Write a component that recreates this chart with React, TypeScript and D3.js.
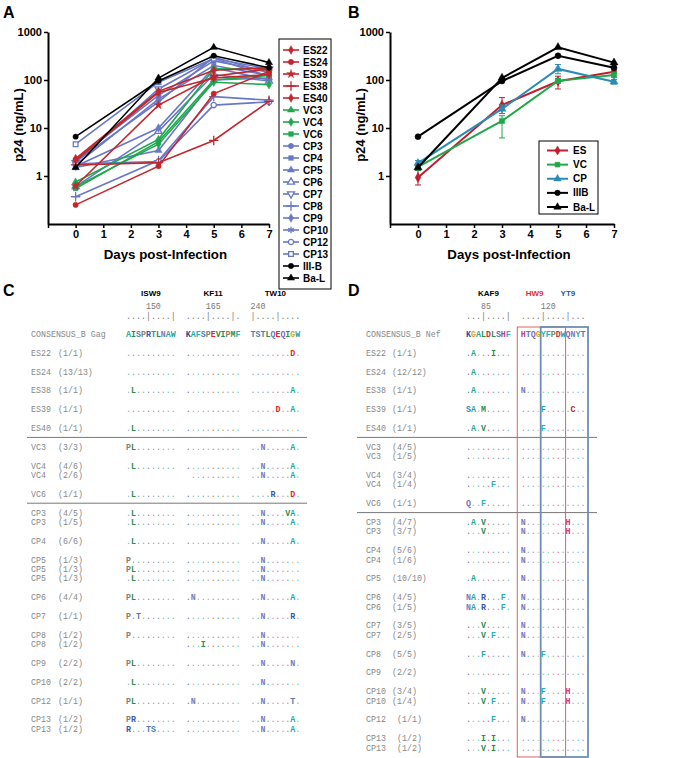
import React, { useEffect, useRef } from 'react';
import * as d3 from 'd3';

const days = [0, 3, 5, 7];

// ---- Panel A: p24 (ng/mL) per isolate, days 0/3/5/7
const es22 = [2.3, 58, 160, 180];
const es24 = [0.25, 1.6, 52, 150];
const es39 = [0.62, 30, 120, 170];
const es38 = [1.7, 1.9, 5.5, 36];
const es40 = [2.1, 55, 110, 130];
const vc3 = [0.75, 5.8, 170, 175];
const vc4 = [0.6, 4.6, 90, 80];
const vc6 = [0.55, 5.2, 100, 125];
const cp3 = [2.2, 48, 250, 150];
const cp4 = [1.7, 40, 200, 125];
const cp5 = [1.5, 3.4, 100, 110];
const cp6 = [0.6, 8.5, 130, 95];
const cp7 = [1.9, 65, 280, 170];
const cp8 = [0.37, 2.1, 45, 38];
const cp9 = [1.6, 10, 180, 100];
const cp10 = [2.0, 35, 300, 140];
const cp12 = [1.8, 2.0, 30, 35];
const cp13 = [4.6, 90, 280, 120];
const iiib = [6.6, 95, 320, 180];
const bal = [1.5, 110, 480, 230];

const isolatesA = ['ES22', 'ES24', 'ES39', 'ES38', 'ES40', 'VC3', 'VC4', 'VC6', 'CP3', 'CP4', 'CP5', 'CP6',
  'CP7', 'CP8', 'CP9', 'CP10', 'CP12', 'CP13', 'III-B', 'Ba-L'];
const valuesA = [es22, es24, es39, es38, es40, vc3, vc4, vc6, cp3, cp4, cp5, cp6, cp7, cp8, cp9, cp10, cp12, cp13, iiib, bal];

// ---- Panel B: group means with error range
const groupsB = ['ES', 'VC', 'CP', 'IIIB', 'Ba-L'];
const meanES = [0.93, 30, 94, 148];
const lowES = [0.65, 20, 65, 138];
const highES = [1.35, 43, 120, 160];
const meanVC = [1.55, 14, 96, 127];
const lowVC = [1.3, 6.2, 86, 115];
const highVC = [1.8, 18, 108, 140];
const meanCP = [1.85, 25, 170, 92];
const lowCP = [1.55, 20, 135, 82];
const highCP = [2.1, 30, 210, 102];
const meanIIIB = [6.6, 95, 320, 180];
const meanBaL = [1.5, 110, 480, 230];

// ---- Panel C: Gag alignment
const gagEpitopes = ['ISW9', 'KF11', 'TW10'];
const gagRuler = ['....|....|', '....|....|.', '|....|....'];
const gagRulerNums = ['150', '165', '240'];
const gagConsensus = ['AISPRTLNAW', 'KAFSPEVIPMF', 'TSTLQEQIGW'];
const gagRows = [
  ['ES22', '(1/1)', '..........', '...........', '........D.'],
  ['ES24', '(13/13)', '..........', '...........', '..........'],
  ['ES38', '(1/1)', '.L........', '...........', '........A.'],
  ['ES39', '(1/1)', '..........', '...........', '.....D..A.'],
  ['ES40', '(1/1)', '.L........', '...........', '..........'],
  ['VC3', '(3/3)', 'PL........', '...........', '..N.....A.'],
  ['VC4', '(4/6)', '.L........', '...........', '..N.....A.'],
  ['VC4', '(2/6)', '          ', ' ..........', '..N.....A.'],
  ['VC6', '(1/1)', '.L........', '...........', '....R...D.'],
  ['CP3', '(4/5)', '.L........', '...........', '..N....VA.'],
  ['CP3', '(1/5)', '.L........', '...........', '..N.....A.'],
  ['CP4', '(6/6)', '.L........', '...........', '..N.....A.'],
  ['CP5', '(1/3)', 'P.........', '...........', '..N.......'],
  ['CP5', '(1/3)', 'PL........', '...........', '..N.......'],
  ['CP5', '(1/3)', '.L........', '...........', '..N.......'],
  ['CP6', '(4/4)', 'PL........', '.N.........', '..N.....A.'],
  ['CP7', '(1/1)', 'P.T.......', '...........', '..N.....R.'],
  ['CP8', '(1/2)', 'P.........', '...........', '..N.......'],
  ['CP8', '(1/2)', '          ', '...I.......', '..N.......'],
  ['CP9', '(2/2)', 'PL........', '...........', '..N.....N.'],
  ['CP10', '(2/2)', '.L........', '...........', '..N.......'],
  ['CP12', '(1/1)', 'PL........', '.N.........', '..N.....T.'],
  ['CP13', '(1/2)', 'PR........', '...........', '..N.....A.'],
  ['CP13', '(1/2)', 'R...TS....', '...........', '..N.....A.'],
];

// ---- Panel D: Nef alignment
const nefEpitopes = ['KAF9'];
const nefBoxEpitopes = ['HW9', 'YT9'];
const nefBoxCols = [[0, 9], [4, 13]];
const nefRuler = ['...|....|', '....|....|...'];
const nefRulerNums = ['85', '120'];
const nefConsensus = ['KGALDLSHF', 'HTQGYFPDWQNYT'];
const nefRows = [
  ['ES22', '(1/1)', '.A...I...', '.............'],
  ['ES24', '(12/12)', '.A.......', '.............'],
  ['ES38', '(1/1)', '.A.......', 'N............'],
  ['ES39', '(1/1)', 'SA.M.....', '....F.....C..'],
  ['ES40', '(1/1)', '.A.V.....', '....F........'],
  ['VC3', '(4/5)', '.........', '.............'],
  ['VC3', '(1/5)', '.........', '.............'],
  ['VC4', '(3/4)', '.........', '.............'],
  ['VC4', '(1/4)', '.....F...', '.............'],
  ['VC6', '(1/1)', 'Q..F.....', '.............'],
  ['CP3', '(4/7)', '.A.V.....', 'N........H...'],
  ['CP3', '(3/7)', '...V.....', 'N........H...'],
  ['CP4', '(5/6)', '.........', 'N............'],
  ['CP4', '(1/6)', '.........', 'N............'],
  ['CP5', '(10/10)', '.A.......', 'N............'],
  ['CP6', '(4/5)', 'NA.R...F.', 'N............'],
  ['CP6', '(1/5)', 'NA.R...F.', 'N............'],
  ['CP7', '(3/5)', '...V.....', 'N............'],
  ['CP7', '(2/5)', '...V.F...', 'N............'],
  ['CP8', '(5/5)', '...F.....', 'N...F........'],
  ['CP9', '(2/2)', '.........', '.............'],
  ['CP10', '(3/4)', '...V.....', 'N...F....H...'],
  ['CP10', '(1/4)', '...V.F...', 'N...F....H...'],
  ['CP12', ' (1/1)', '.....F...', 'N............'],
  ['CP13', ' (1/2)', '...I.I...', '.............'],
  ['CP13', ' (1/2)', '...V.I...', '.............'],
];

// ---- styles
const FONT = "'Liberation Sans', Arial, sans-serif";
const MONO = "'Liberation Mono', 'Courier New', monospace";
const colorA = (n: string) =>
  n.startsWith('ES') ? '#c1272d' : n.startsWith('VC') ? '#1fa84f' : n.startsWith('CP') ? '#6878c6' : '#000';
const colorsB = ['#be1e2d', '#22a84a', '#2a8cb4', '#000', '#000'];
const markersA = ['diamond', 'circle', 'star', 'plus', 'diamond', 'triangle', 'diamond', 'square', 'circle', 'square',
  'triangle', 'openTriangle', 'openTriangleDown', 'plus', 'diamond', 'asterisk', 'openCircle', 'openSquare', 'circle', 'triangle'];
const markersB = ['diamond', 'square', 'triangle', 'circle', 'triangle'];

const shapes: Record<string, { type: any; open?: boolean; stroke?: boolean; rot?: number }> = {
  circle: { type: d3.symbolCircle },
  square: { type: d3.symbolSquare },
  triangle: { type: d3.symbolTriangle },
  diamond: { type: d3.symbolDiamond },
  star: { type: d3.symbolStar },
  plus: { type: d3.symbolPlus, stroke: true },
  asterisk: { type: d3.symbolAsterisk, stroke: true },
  openCircle: { type: d3.symbolCircle, open: true },
  openSquare: { type: d3.symbolSquare, open: true },
  openTriangle: { type: d3.symbolTriangle, open: true },
  openTriangleDown: { type: d3.symbolTriangle, open: true, rot: 180 },
};

const aaColor: Record<string, string> = {
  A: '#1fa99a', I: '#2d8c4e', L: '#2d8c4e', V: '#2d8c4e', M: '#2d8c4e',
  F: '#1fb0b8', W: '#1fa0a8', Y: '#1fb0a8',
  D: '#e0262a', E: '#e0262a', C: '#c0203a',
  K: '#2c4a9a', R: '#3658a8', H: '#c23c8c',
  N: '#7c7cbc', Q: '#7c6cb8', S: '#3d7fb8', T: '#5a78b8',
  P: '#8a8068', G: '#e0a02a',
};

function marker(g: any, kind: string, color: string, size: number, x: number, y: number) {
  const s = shapes[kind];
  g.append('path')
    .attr('d', d3.symbol().type(s.type).size(s.stroke ? size * 1.4 : size)())
    .attr('transform', `translate(${x},${y})${s.rot ? ` rotate(${s.rot})` : ''}`)
    .attr('fill', s.stroke ? 'none' : s.open ? '#fff' : color)
    .attr('stroke', color)
    .attr('stroke-width', s.stroke || s.open ? 1.3 : 0.5);
}

function axes(g: any, x: any, y: any) {
  const ya = g.append('g').attr('transform', `translate(${x.range()[0]},0)`)
    .call(d3.axisLeft(y).tickValues([1, 10, 100, 1000]).tickFormat(d3.format('d')).tickSize(4).tickPadding(2).tickSizeOuter(0));
  const xa = g.append('g').attr('transform', `translate(0,${y.range()[0]})`)
    .call(d3.axisBottom(x).tickValues([-1, 0, 1, 2, 3, 4, 5, 6, 7]).tickFormat((d: any) => (d < 0 ? '' : String(d)))
      .tickSize(4).tickPadding(2).tickSizeOuter(0));
  [ya, xa].forEach((a) => {
    a.select('.domain').attr('stroke', '#000').attr('stroke-width', 2);
    a.selectAll('.tick line').attr('stroke', '#000').attr('stroke-width', 1.5);
    a.selectAll('.tick text').attr('font-family', FONT).attr('font-weight', 700).attr('font-size', 11).attr('fill', '#000');
  });
  g.append('text').attr('x', x(3.25)).attr('y', 259).attr('text-anchor', 'middle')
    .attr('font-family', FONT).attr('font-weight', 700).attr('font-size', 13.3).text('Days post-Infection');
  g.append('text').attr('transform', `translate(${x.range()[0] - 25},125) rotate(-90)`).attr('text-anchor', 'middle')
    .attr('font-family', FONT).attr('font-weight', 700).attr('font-size', 13).text('p24 (ng/mL)');
}

function alignment(svg: any, o: any) {
  const { left, nameX, countX, cw, consensus, rows, ruler, rulerNums, title } = o;
  const g = svg.append('g');
  const groupCol: number[] = [];
  consensus.reduce((c: number, s: string) => { groupCol.push(c); return c + s.length + 2; }, 0);
  const colX = (gi: number, ci: number) => left + (groupCol[gi] + ci) * cw;
  const rowY = d3.scaleLinear().domain([0, 1]).range([334, 343.4]);

  // line layout: blank line between samples, separator between cohorts
  const cls = (n: string) => n.replace(/\d+/g, '');
  let line = 0;
  const placed: { r: string[]; line: number }[] = [];
  const seps: number[] = [];
  rows.forEach((r: string[], i: number) => {
    if (i === 0) line = 2;
    else if (rows[i - 1][0] === r[0]) line += 1;
    else {
      line += 2;
      if (cls(rows[i - 1][0]) !== cls(r[0])) seps.push(line - 1);
    }
    placed.push({ r, line });
  });

  const txt = (x: number, y: number, s: string, fill: string, bold = false) =>
    g.append('text').attr('x', x).attr('y', y).attr('font-family', MONO).attr('font-size', 8.3)
      .attr('font-weight', bold ? 700 : 400).attr('fill', fill).attr('text-anchor', 'middle').text(s);

  const seqRow = (seqs: string[], y: number, cons: boolean) => {
    seqs.forEach((s, gi) => {
      [...s].forEach((ch, ci) => {
        if (ch === ' ') return;
        const x = colX(gi, ci) + cw / 2;
        if (ch === '.') {
          const c = aaColor[consensus[gi][ci]] || '#999';
          txt(x, y, '.', c).attr('opacity', 0.75);
        } else txt(x, y, ch, aaColor[ch] || '#555', !cons || true);
      });
    });
  };

  // ruler
  ruler.forEach((s: string, gi: number) => {
    [...s].forEach((ch, ci) => txt(colX(gi, ci) + cw / 2, 319, ch, '#777'));
    g.append('text').attr('x', colX(gi, s.indexOf('|'))).attr('y', 309).attr('font-family', MONO)
      .attr('font-size', 8.3).attr('fill', '#777').text(rulerNums[gi]);
  });

  const labelRow = (name: string, count: string, y: number) => {
    g.append('text').attr('x', nameX).attr('y', y).attr('font-family', MONO).attr('font-size', 8.3).attr('fill', '#888').text(name);
    if (count) g.append('text').attr('x', countX).attr('y', y).attr('font-family', MONO).attr('font-size', 8.3)
      .attr('fill', '#888').attr('xml:space', 'preserve').style('white-space', 'pre').text(count);
  };

  labelRow(title, '', rowY(0) + 3);
  seqRow(consensus, rowY(0) + 3, true);
  placed.forEach(({ r, line: l }) => {
    labelRow(r[0], r[1], rowY(l) + 3);
    seqRow(r.slice(2), rowY(l) + 3, false);
  });
  seps.forEach((l) => g.append('line').attr('x1', o.sepX[0]).attr('x2', o.sepX[1])
    .attr('y1', rowY(l)).attr('y2', rowY(l)).attr('stroke', '#777').attr('stroke-width', 1));
  return { g, colX, rowY };
}

const App = () => {
  const ref = useRef<SVGSVGElement>(null);

  useEffect(() => {
    const svg = d3.select(ref.current);
    svg.selectAll('*').remove();
    svg.append('rect').attr('width', 690).attr('height', 758).attr('fill', '#fff');

    const letter = (x: number, y: number, t: string) => svg.append('text').attr('x', x).attr('y', y)
      .attr('font-family', FONT).attr('font-weight', 700).attr('font-size', 16).text(t);
    letter(3, 18, 'A');
    letter(348, 18, 'B');
    letter(3, 296, 'C');
    letter(348, 296, 'D');

    // ---------- Panel A
    const xA = d3.scaleLinear().domain([-1, 7]).range([48, 269]);
    const yA = d3.scaleLog().domain([0.1, 1000]).range([224, 32]);
    const gA = svg.append('g');
    axes(gA, xA, yA);
    const lineA = d3.line<number>().x((_, i) => xA(days[i])).y((v) => yA(v));
    const orderA = d3.range(isolatesA.length).sort((a, b) => {
      const rank = (n: string) => (n.startsWith('CP') ? 0 : n.startsWith('VC') ? 1 : n.startsWith('ES') ? 2 : 3);
      return rank(isolatesA[a]) - rank(isolatesA[b]);
    });
    orderA.forEach((i) => {
      const c = colorA(isolatesA[i]);
      gA.append('path').attr('d', lineA(valuesA[i])).attr('fill', 'none').attr('stroke', c).attr('stroke-width', 1.6);
      valuesA[i].forEach((v, k) => marker(gA, markersA[i], c, 22, xA(days[k]), yA(v)));
    });
    // legend A
    const legY = d3.scaleLinear().domain([0, isolatesA.length - 1]).range([50, 278]);
    gA.append('rect').attr('x', 279).attr('y', 39).attr('width', 52).attr('height', 250)
      .attr('fill', '#fff').attr('stroke', '#000').attr('stroke-width', 1);
    isolatesA.forEach((n, i) => {
      const c = colorA(n);
      const y = legY(i);
      gA.append('line').attr('x1', 283).attr('x2', 299).attr('y1', y).attr('y2', y).attr('stroke', c).attr('stroke-width', 1.6);
      marker(gA, markersA[i], c, 22, 291, y);
      gA.append('text').attr('x', 303).attr('y', y + 3.6).attr('font-family', FONT).attr('font-weight', 700)
        .attr('font-size', 10).text(n);
    });

    // ---------- Panel B
    const xB = d3.scaleLinear().domain([-1, 7]).range([390, 614]);
    const yB = d3.scaleLog().domain([0.1, 1000]).range([224, 32]);
    const gB = svg.append('g');
    axes(gB, xB, yB);
    const meansB = [meanES, meanVC, meanCP, meanIIIB, meanBaL];
    const lowsB = [lowES, lowVC, lowCP, null, null];
    const highsB = [highES, highVC, highCP, null, null];
    const lineB = d3.line<number>().x((_, i) => xB(days[i])).y((v) => yB(v));
    [0, 1, 2, 3, 4].forEach((i) => {
      const c = colorsB[i];
      const lo = lowsB[i];
      const hi = highsB[i];
      if (lo && hi) {
        days.forEach((d, k) => {
          const x = xB(d);
          gB.append('line').attr('x1', x).attr('x2', x).attr('y1', yB(lo[k])).attr('y2', yB(hi[k])).attr('stroke', c).attr('stroke-width', 1);
          [lo[k], hi[k]].forEach((v) => gB.append('line').attr('x1', x - 3).attr('x2', x + 3).attr('y1', yB(v)).attr('y2', yB(v))
            .attr('stroke', c).attr('stroke-width', 1));
        });
      }
      gB.append('path').attr('d', lineB(meansB[i])).attr('fill', 'none').attr('stroke', c).attr('stroke-width', 2);
      meansB[i].forEach((v, k) => marker(gB, markersB[i], c, 28, xB(days[k]), yB(v)));
    });
    const legYB = d3.scaleLinear().domain([0, groupsB.length - 1]).range([150.5, 207]);
    gB.append('rect').attr('x', 539).attr('y', 141).attr('width', 59).attr('height', 73)
      .attr('fill', '#fff').attr('stroke', '#000').attr('stroke-width', 1);
    groupsB.forEach((n, i) => {
      const y = legYB(i);
      gB.append('line').attr('x1', 547).attr('x2', 568).attr('y1', y).attr('y2', y).attr('stroke', colorsB[i]).attr('stroke-width', 2);
      marker(gB, markersB[i], colorsB[i], 24, 557.5, y);
      gB.append('text').attr('x', 573).attr('y', y + 3.6).attr('font-family', FONT).attr('font-weight', 700)
        .attr('font-size', 10).text(n);
    });

    // ---------- Panel C
    const c = alignment(svg, {
      left: 126, nameX: 31, countX: 58, cw: 4.98, consensus: gagConsensus, rows: gagRows,
      ruler: gagRuler, rulerNums: gagRulerNums, title: 'CONSENSUS_B Gag', sepX: [27, 307],
    });
    gagEpitopes.forEach((e, gi) => {
      const x0 = c.colX(gi, 0);
      const x1 = c.colX(gi, gagConsensus[gi].length);
      c.g.append('text').attr('x', (x0 + x1) / 2).attr('y', 296).attr('text-anchor', 'middle')
        .attr('font-family', FONT).attr('font-weight', 700).attr('font-size', 8).text(e);
    });

    // ---------- Panel D
    const dd = alignment(svg, {
      left: 466, nameX: 366, countX: 392, cw: 4.98, consensus: nefConsensus, rows: nefRows,
      ruler: nefRuler, rulerNums: nefRulerNums, title: 'CONSENSUS_B Nef', sepX: [357, 597],
    });
    nefEpitopes.forEach((e, gi) => {
      const x0 = dd.colX(gi, 0);
      const x1 = dd.colX(gi, nefConsensus[gi].length);
      dd.g.append('text').attr('x', (x0 + x1) / 2).attr('y', 296).attr('text-anchor', 'middle')
        .attr('font-family', FONT).attr('font-weight', 700).attr('font-size', 8).text(e);
    });
    const boxColors = ['#e0625e', '#6f8fb0'];
    const boxWidths = [1, 1.8];
    const labelOffset = [1, 4];
    nefBoxEpitopes.forEach((e, bi) => {
      const [a, b] = nefBoxCols[bi];
      const x0 = dd.colX(1, a) - (bi === 0 ? 3.5 : 0);
      const x1 = dd.colX(1, b) + (bi === 1 ? 2.5 : 0);
      dd.g.append('rect').attr('x', x0).attr('y', 327).attr('width', x1 - x0).attr('height', 430)
        .attr('fill', 'none').attr('stroke', boxColors[bi]).attr('stroke-width', boxWidths[bi]);
      dd.g.append('text').attr('x', dd.colX(1, a + labelOffset[bi])).attr('y', 296)
        .attr('font-family', FONT).attr('font-weight', 700).attr('font-size', 8)
        .attr('fill', bi === 0 ? '#e03030' : '#2a5aa0').text(e);
    });
  }, []);

  return <svg ref={ref} width={690} height={758} style={{ position: 'absolute', left: 0, top: 0 }} />;
};

export default App;
